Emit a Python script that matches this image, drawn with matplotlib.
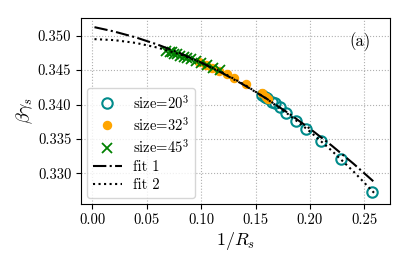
import matplotlib
matplotlib.use("Agg")
import matplotlib.pyplot as plt

plt.rcParams['font.family'] = 'serif'
plt.rcParams['font.serif'] = ['cmr10']
plt.rcParams['mathtext.fontset'] = 'cm'
plt.rcParams['axes.formatter.use_mathtext'] = True

# size = 20^3
x20 = [0.1557, 0.1583, 0.1608, 0.1652, 0.1679, 0.1725, 0.1780, 0.1872, 0.1964, 0.2099, 0.2283, 0.2571]
y20 = [0.34138, 0.34113, 0.34090, 0.34044, 0.34017, 0.33960, 0.33872, 0.33765, 0.33640, 0.33474, 0.33203, 0.32724]

# size = 32^3
x32 = [0.0983, 0.1042, 0.1103, 0.1165, 0.1235, 0.1305, 0.1413, 0.1557, 0.1594, 0.1612]
y32 = [0.34622, 0.34574, 0.34526, 0.34487, 0.34443, 0.34381, 0.34294, 0.34163, 0.34113, 0.34076]

# size = 45^3
x45 = [0.068, 0.071, 0.073, 0.075, 0.078, 0.081, 0.084, 0.087, 0.091, 0.095, 0.100, 0.105, 0.111, 0.117]
y45 = [0.3478, 0.3476, 0.3477, 0.3474, 0.3473, 0.3471, 0.3469, 0.3467, 0.3466, 0.3463, 0.3461, 0.3458, 0.3453, 0.3450]

# fit curves
xfit = [0.002, 0.02, 0.04, 0.06, 0.08, 0.10, 0.12, 0.14, 0.16, 0.18, 0.20, 0.22, 0.24, 0.26]
yfit1 = [0.35124, 0.35061, 0.34975, 0.34871, 0.34750, 0.34610, 0.34453, 0.34279,
         0.34087, 0.33877, 0.33649, 0.33404, 0.33141, 0.32861]
yfit2 = [0.34950, 0.34936, 0.34895, 0.34827, 0.34732, 0.34610, 0.34462, 0.34287,
         0.34086, 0.33860, 0.33608, 0.33330, 0.33028, 0.32700]

fig = plt.figure(figsize=(4.08, 2.66), dpi=100)
ax = fig.add_axes([0.1985, 0.2342, 0.7575, 0.6963])

ax.plot(x20, y20, 'o', mfc='none', mec='darkcyan', mew=1.5, ms=7.5, label='size=$20^3$')
ax.plot(x32, y32, 'o', color='orange', ms=5.8, label='size=$32^3$')
ax.plot(x45, y45, 'x', color='green', ms=7, mew=1.3, label='size=$45^3$')
ax.plot(xfit, yfit1, color='black', ls='-.', lw=1.5, label='fit 1')
ax.plot(xfit, yfit2, color='black', ls=':', lw=1.5, label='fit 2')

ax.set_xlim(-0.0104, 0.2736)
ax.set_ylim(0.3256, 0.3525)
ax.set_xticks([0.0, 0.05, 0.10, 0.15, 0.20, 0.25])
ax.set_yticks([0.330, 0.335, 0.340, 0.345, 0.350])
ax.set_xticklabels(['0.00', '0.05', '0.10', '0.15', '0.20', '0.25'])
ax.set_yticklabels(['0.330', '0.335', '0.340', '0.345', '0.350'])
ax.tick_params(labelsize=10.5)
ax.grid(True, ls=':', color='#b0b0b0', lw=0.8)

ax.set_xlabel(r'$1/R_s$', fontsize=13, labelpad=2)
ax.set_ylabel(r'$\beta\gamma_s$', fontsize=13, labelpad=2)
ax.text(0.903, 0.875, '(a)', transform=ax.transAxes, fontsize=12, ha='center', va='center')

ax.legend(loc='lower left', fontsize=10.5, handlelength=2.0, labelspacing=0.3,
          borderaxespad=0.4)

fig.savefig('out.png', dpi=100)
